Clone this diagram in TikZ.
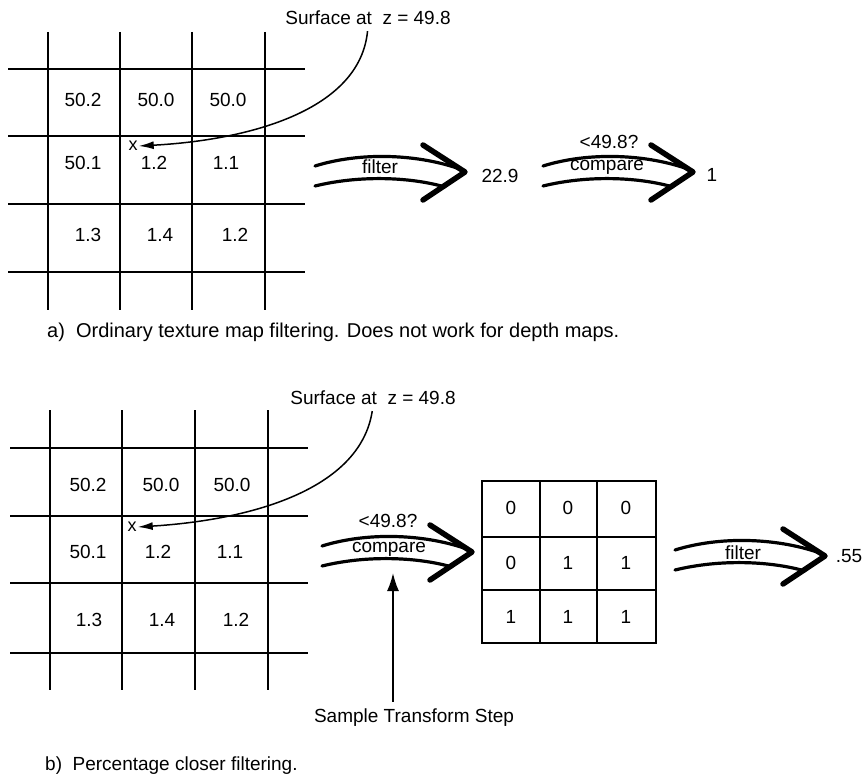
\documentclass[tikz,border=0pt]{standalone}
\usepackage{fontspec}
\setmainfont{Liberation Sans}
\usetikzlibrary{arrows.meta}
\tikzset{
  grid line/.style={line width=1.6pt},
  txt/.style={font=\fontsize{19}{22}\selectfont, inner sep=1pt},
  pointer/.style={line width=1.5pt, shorten <=5pt, -{Latex[length=15pt,width=8pt]}},
  fat arrow/.pic={
    \draw[line width=3.2pt, line cap=round] (0,-10) .. controls (45,-24) and (100,-22) .. (142,-8);
    \draw[line width=3.2pt, line cap=round] (0,10) .. controls (45,-1) and (95,1) .. (130,11);
    \draw[line width=5.5pt, line cap=round, line join=round] (108,-31) -- (150,-4) -- (108,24);
  },
}

\begin{document}
\begin{tikzpicture}[x=1pt, y=-1pt]
    \useasboundingbox (0,0) rectangle (864,778);
    % a) ordinary filtering
    \foreach \x in {48,120,192,265} \draw[grid line] (\x,32) -- (\x,310);
    \foreach \y in {69,136,204,272} \draw[grid line] (8,\y) -- (305,\y);
    \foreach \x/\y/\v [count=\n] in {83/100/50.2, 156/100/50.0, 228/100/50.0,
        83/163/50.1, 154/163/1.2, 226/163/1.1, 88/235/1.3, 160/235/1.4, 235/235/1.2}
        \node[txt] (cellA\n) at (\x,\y) {\v};
    \node[txt] (surfA) at (368,18) {Surface at\ \ z = 49.8};
    \node[txt, font=\fontsize{18}{20}\selectfont] (xA) at (133,146) {x};
    \draw[pointer] (surfA.south) .. controls (360,110) and (250,140) .. (xA.east);
    \pic at (315,176) {fat arrow};
    \node[txt] (filterA) at (380,167) {filter};
    \node[txt] (avgA) at (500,176) {22.9};
    \pic at (543,176) {fat arrow};
    \node[txt] (testA) at (609,142) {<49.8?};
    \node[txt] (compareA) at (607,167) {compare};
    \node[txt] (resA) at (712,175) {1};
    \node[txt, font=\fontsize{20}{22}\selectfont, anchor=west] (capA) at (46,332) {a)\ \ Ordinary texture map filtering. Does not work for depth maps.};
    % b) percentage closer filtering
    \foreach \x in {50,122,195,268} \draw[grid line] (\x,410) -- (\x,690);
    \foreach \y in {448,516,583,653} \draw[grid line] (10,\y) -- (308,\y);
    \foreach \x/\y/\v [count=\n] in {88/485/50.2, 161/485/50.0, 232/485/50.0,
        88/552/50.1, 158/552/1.2, 230/552/1.1, 89/620/1.3, 162/620/1.4, 236/620/1.2}
        \node[txt] (cellB\n) at (\x,\y) {\v};
    \node[txt] (surfB) at (373,398) {Surface at\ \ z = 49.8};
    \node[txt, font=\fontsize{18}{20}\selectfont] (xB) at (132,527) {x};
    \draw[pointer] (surfB.south) .. controls (360,490) and (250,520) .. (xB.east);
    \pic at (322,556) {fat arrow};
    \node[txt] (testB) at (388,521) {<49.8?};
    \node[txt] (compareB) at (389,549) {compare};
    \draw[grid line] (482,481) rectangle (656,643);
    \foreach \x in {540,597} \draw[grid line] (\x,481) -- (\x,643);
    \foreach \y in {537,590} \draw[grid line] (482,\y) -- (656,\y);
    \foreach \x/\y/\v [count=\n] in {511/508/0, 568/508/0, 626/508/0,
        511/563/0, 568/563/1, 626/563/1, 511/617/1, 568/617/1, 626/617/1}
        \node[txt] (bit\n) at (\x,\y) {\v};
    \pic at (675,560) {fat arrow};
    \node[txt] (filterB) at (743,553) {filter};
    \node[txt] (resB) at (849,556) {.55};
    \coordinate (stepTip) at (393,573);
    \node[txt] (sampleStep) at (414,718) {Sample Transform Step};
    \draw[line width=1.8pt, shorten <=6pt, -{Latex[length=18pt,width=12pt]}] (sampleStep.north -| stepTip) -- (stepTip);
    \node[txt, anchor=west] (capB) at (44,766) {b)\ \ Percentage closer filtering.};
\end{tikzpicture}
\end{document}
